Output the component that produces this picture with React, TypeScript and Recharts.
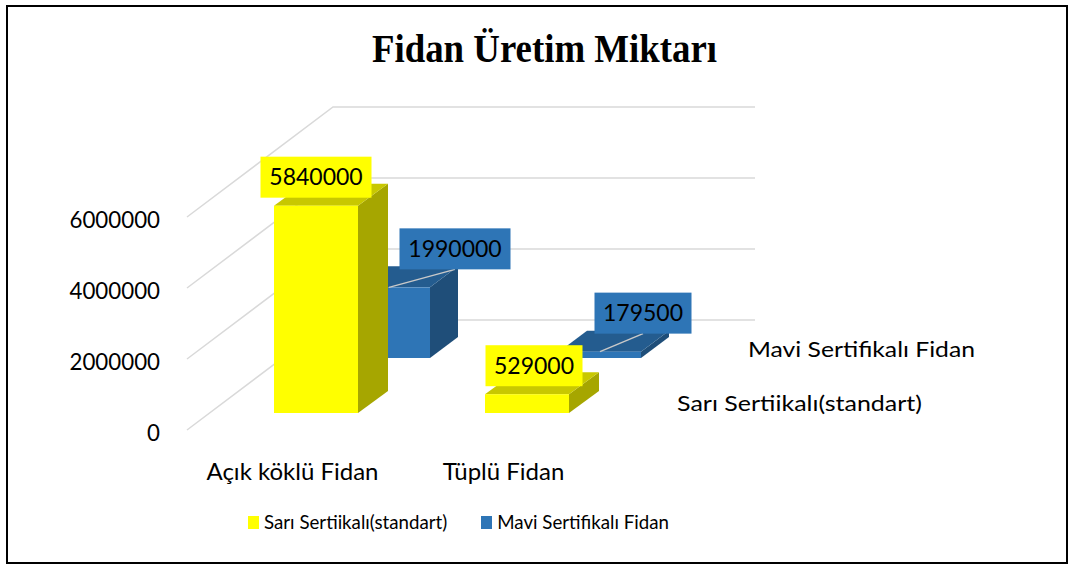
import React from 'react';
import { BarChart, Bar, XAxis, YAxis, CartesianGrid, Legend } from 'recharts';

const categories = ['Açık köklü Fidan', 'Tüplü Fidan'];
const sariValues = [5840000, 529000];
const maviValues = [1990000, 179500];
const yTicks = [0, 2000000, 4000000, 6000000];
const seriesNames = ['Sarı Sertiikalı(standart)', 'Mavi Sertifikalı Fidan'];
const title = 'Fidan Üretim Miktarı';

const data = categories.map((name, i) => ({ name, sari: sariValues[i], mavi: maviValues[i] }));

const FONT = 'Lato, "Open Sans", sans-serif';
const DEPTH_X = 146;
const DEPTH_Y = 110;

type BoxOpts = {
  key: 'sari' | 'mavi';
  w: number;
  dx: number;
  dy: number;
  sd: number;
  sdy: number;
  front: string;
  top: string;
  side: string;
  labelShift: number[];
  labelGap: number;
  leader: boolean;
};

const sariOpts: BoxOpts = {
  key: 'sari', w: 84, dx: 23, dy: -17, sd: 30, sdy: 22,
  front: '#FFFF00', top: '#C8C800', side: '#A6A600',
  labelShift: [0, 7], labelGap: 8, leader: false,
};
const maviOpts: BoxOpts = {
  key: 'mavi', w: 82, dx: 96, dy: -72, sd: 28, sdy: 21,
  front: '#2E75B6', top: '#245C8F', side: '#1F4E79',
  labelShift: [66, 43], labelGap: 18, leader: true,
};

function makeBox(o: BoxOpts) {
  return (props: any) => {
    const { x, y, width, height, index, payload } = props;
    const left = x + (width - o.w) / 2 + o.dx;
    const right = left + o.w;
    const top = y + o.dy;
    const bottom = y + height + o.dy;
    const cx = left + o.w / 2;
    const text = String(payload[o.key]);
    const bw = 13 + 14 * text.length;
    const bh = 41;
    const bcx = cx + (o.labelShift[index] ?? 0);
    const bBottom = top - o.labelGap;
    const bTop = bBottom - bh;
    return (
      <g>
        <polygon
          points={`${right},${top} ${right + o.sd},${top - o.sdy} ${right + o.sd},${bottom - o.sdy} ${right},${bottom}`}
          fill={o.side}
        />
        <polygon
          points={`${left},${top} ${right},${top} ${right + o.sd},${top - o.sdy} ${left + o.sd},${top - o.sdy}`}
          fill={o.top}
        />
        <rect x={left} y={top} width={o.w} height={bottom - top} fill={o.front} />
        {o.leader && (
          <line x1={bcx} y1={bBottom} x2={cx} y2={top} stroke="#C9C9C9" strokeWidth={1.5} />
        )}
        <rect x={bcx - bw / 2} y={bTop} width={bw} height={bh} fill={o.front} />
        <text
          x={bcx}
          y={bTop + bh / 2 + 8}
          textAnchor="middle"
          fontFamily={FONT}
          fontSize={23}
          fill="#000"
        >
          {text}
        </text>
      </g>
    );
  };
}

const gridLine = (props: any) => {
  const { x1, y1, x2 } = props;
  return (
    <polyline
      key={`g-${y1}`}
      points={`${x1},${y1} ${x1 + DEPTH_X},${y1 - DEPTH_Y} ${x2 + DEPTH_X},${y1 - DEPTH_Y}`}
      fill="none"
      stroke="#D9D9D9"
      strokeWidth={1.5}
    />
  );
};

const YTick = (props: any) => {
  const { x, y, payload } = props;
  return (
    <text x={x} y={y + 11} textAnchor="end" fontFamily={FONT} fontSize={22.3} fill="#000">
      {payload.value}
    </text>
  );
};

const XTick = (props: any) => {
  const { x, y, payload } = props;
  return (
    <text x={x} y={y + 42} textAnchor="middle" fontFamily={FONT} fontSize={24} fill="#000">
      {payload.value}
    </text>
  );
};

const renderLegend = (props: any) => {
  const items = [...(props.payload || [])].sort(
    (a: any, b: any) => seriesNames.indexOf(a.value) - seriesNames.indexOf(b.value)
  );
  return (
    <div style={{ display: 'flex', alignItems: 'center', fontFamily: FONT, fontSize: 18.7, color: '#000' }}>
      {items.map((it: any, i: number) => (
        <div key={i} style={{ display: 'flex', alignItems: 'center', marginRight: i === 0 ? 34 : 0 }}>
          <span style={{ display: 'inline-block', width: 11, height: 13, background: it.color, marginRight: 5 }} />
          <span style={{ whiteSpace: 'nowrap' }}>{it.value}</span>
        </div>
      ))}
    </div>
  );
};

export default function App() {
  return (
    <div style={{ position: 'absolute', left: 0, top: 0, width: 1075, height: 565, background: '#fff' }}>
      <BarChart
        width={1075}
        height={565}
        data={data}
        margin={{ top: 217, right: 466, bottom: 95, left: 67 }}
        barGap={-84}
      >
        <CartesianGrid vertical={false} horizontal={gridLine} />
        <XAxis
          dataKey="name"
          axisLine={false}
          tickLine={false}
          height={40}
          tick={<XTick />}
          interval={0}
        />
        <YAxis
          domain={[0, 6000000]}
          ticks={yTicks}
          axisLine={false}
          tickLine={false}
          tickSize={0}
          tickMargin={27}
          width={120}
          tick={<YTick />}
          interval={0}
        />
        <Legend
          layout="horizontal"
          verticalAlign="middle"
          align="center"
          content={renderLegend}
          wrapperStyle={{ position: 'absolute', left: 248, top: 511, width: 'auto' }}
        />
        <Bar
          dataKey="mavi"
          name={seriesNames[1]}
          fill="#2E75B6"
          barSize={84}
          shape={makeBox(maviOpts)}
          isAnimationActive={false}
        />
        <Bar
          dataKey="sari"
          name={seriesNames[0]}
          fill="#FFFF00"
          barSize={84}
          shape={makeBox(sariOpts)}
          isAnimationActive={false}
        />
      </BarChart>
      <svg
        width={1075}
        height={565}
        style={{ position: 'absolute', left: 0, top: 0, pointerEvents: 'none' }}
      >
        <rect x={7} y={6} width={1060} height={557} fill="none" stroke="#000" strokeWidth={2} />
        <text
          x={544.5}
          y={62}
          textAnchor="middle"
          fontFamily='"Liberation Serif", "Times New Roman", serif'
          fontWeight="bold"
          fontSize={40}
          textLength={345}
          lengthAdjust="spacingAndGlyphs"
          fill="#000"
        >
          {title}
        </text>
        <text x={748} y={357} fontFamily={FONT} fontSize={22} textLength={227} lengthAdjust="spacingAndGlyphs" fill="#000">
          {seriesNames[1]}
        </text>
        <text x={677} y={411} fontFamily={FONT} fontSize={22} textLength={245} lengthAdjust="spacingAndGlyphs" fill="#000">
          {seriesNames[0]}
        </text>
      </svg>
    </div>
  );
}
